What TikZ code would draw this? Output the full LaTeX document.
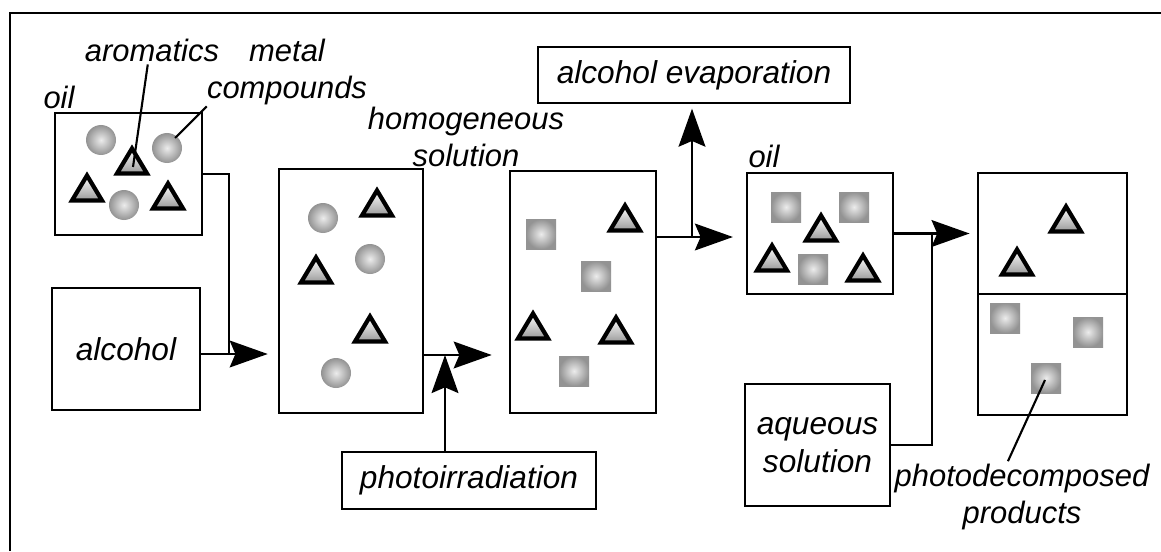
\documentclass[tikz,border=0pt]{standalone}
\usepackage{fontspec}
\setmainfont{Liberation Sans}
\usetikzlibrary{arrows.meta}

\tikzset{
  sz/.style 2 args={minimum width=#1*0.025cm, minimum height=#2*0.025cm},
  box/.style={draw, line width=2pt, inner sep=0pt, align=center},
  lbl/.style={inner sep=0pt, align=center, font=\fontsize{22}{26}\selectfont\itshape},
  arr/.style={line width=2pt, -{Stealth[length=27pt, width=19pt, inset=4pt]}},
  tri/.pic={
    \draw[line width=3pt, line join=miter, top color=white, bottom color=gray!80]
      (-15,12.5) -- (0,-12.5) -- (15,12.5) -- cycle;
  },
  ball/.pic={
    \shade[inner color=gray!15, outer color=gray!85] (0,0) circle (15);
  },
  blob/.pic={
    \shade[inner color=gray!15, outer color=gray!85] (-15,-15) rectangle (15,15);
  }
}

\begin{document}
\begin{tikzpicture}[
  x={(0.025cm,0cm)},
  y={(0cm,-0.025cm)},
  font=\fontsize{22.5}{27}\selectfont\itshape
]
\useasboundingbox (0,0) rectangle (1161,551);

% frame
\draw[line width=2pt] (10,551) -- (10,13) -- (1161,13);

% vessels
\node[box, sz={147}{122}] (oilA) at (128.5,174) {};
\node[box, sz={148}{122}] (alc) at (126,349) {alcohol};
\node[box, sz={144}{244}] (mix) at (351,291) {};
\node[box, sz={146}{242}] (homo) at (583,292) {};
\node[box, sz={146}{121}] (oilB) at (820,233.5) {};
\node[box, sz={149}{121}] (upper) at (1052.5,233.5) {};
\node[box, sz={149}{121}] (lower) at (1052.5,354.5) {};
\node[box, sz={312}{56}] (evap) at (694,75) {alcohol evaporation};
\node[box, sz={254}{57}] (irr) at (469,480.5) {photoirradiation};
\node[box, sz={145}{122}] (aq) at (817.5,445) {aqueous\\solution};

% contents
\foreach \x/\y in {132/161, 87/188, 168/196, 377/203, 316/270, 370/329,
                   625/218, 533/326, 616/330, 821/228, 772/258, 863/268,
                   1066/219, 1017/262}
  \pic at (\x,\y) {tri};
\foreach \x/\y in {101/140, 167/148, 124/205, 323/218, 370/259, 336/373}
  \pic at (\x,\y) {ball};
\foreach \x/\y in {541/234, 596/276, 574/371, 786/207, 854/207, 813/269,
                   1005/318, 1088/332, 1046/378}
  \pic at (\x,\y) {blob};

% labels
\node[lbl] (oilAlbl) at (59,97) {oil};
\node[lbl] (oilBlbl) at (764,156) {oil};
\node[lbl] (aromlbl) at (152,50) {aromatics};
\node[lbl] (metallbl) at (287,72) {metal\\compounds};
\node[lbl] (homolbl) at (466,137) {homogeneous\\solution};
\node[lbl] (prodlbl) at (1022,497) {photodecomposed\\products};

\coordinate (p1) at (133,167);
\coordinate (p2) at (175,138);
\coordinate (p3) at (1045,380);
\draw[line width=1.5pt] ([xshift=-3pt, yshift=-2pt]aromlbl.south) -- (p1);
\draw[line width=1.5pt] ([yshift=-1pt]metallbl.south west) -- (p2);
\draw[line width=1.5pt] ([xshift=-10pt, yshift=2pt]prodlbl.north) -- (p3);

% flow
\coordinate (j1) at (229,354);
\coordinate (j2) at (445,355);
\coordinate (j3) at (692,237);
\coordinate (j4) at (932,233.5);

\draw[line width=2pt] (oilA.east) -| (j1);
\draw[arr, shorten >=7pt] (alc.east |- j1) -- (mix.west |- j1);
\draw[arr, shorten >=12pt] (mix.east |- j2) -- (homo.west |- j2);
\draw[arr] (irr.north -| j2) -- (j2);
\draw[arr, shorten >=9pt] (homo.east |- j3) -- (oilB.west |- j3);
\draw[arr, shorten >=3pt] (j3) -- (evap.south -| j3);
\draw[arr, shorten >=5pt] (oilB.east) -- (upper.west);
\draw[line width=2pt] (aq.east) -| (j4);
\end{tikzpicture}
\end{document}
